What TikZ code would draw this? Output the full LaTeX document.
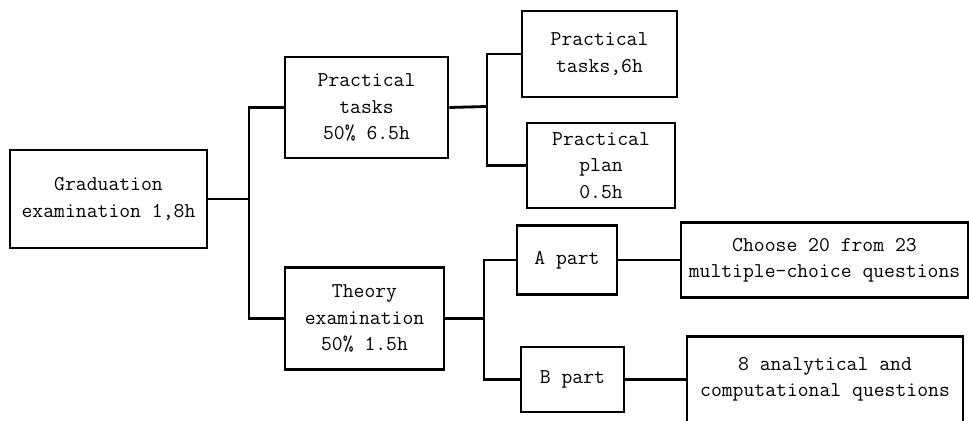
\documentclass[tikz,border=0pt]{standalone}
\usepackage{tikz}
\usetikzlibrary{calc}

\begin{document}
\begin{tikzpicture}[x=0.02cm,y=-0.02cm,line width=1.6pt,
  box/.style={draw,align=center,inner sep=0pt,font=\ttfamily\fontsize{12}{15}\selectfont}]

\useasboundingbox (0,0) rectangle (969,421);

\node [box,minimum width=3.94cm,minimum height=1.96cm] (grad) at (108.5,199) {Graduation\\examination 1,8h};

\node [box,minimum width=3.26cm,minimum height=2.02cm] (prac) at (366.5,107.5) {Practical\\tasks\\50\% 6.5h};
\node [box,minimum width=3.18cm,minimum height=2.04cm] (theo) at (364.5,318.5) {Theory\\examination\\50\% 1.5h};

\node [box,minimum width=3.10cm,minimum height=1.72cm] (ptask) at (599.5,54) {Practical\\tasks,6h};
\node [box,minimum width=2.96cm,minimum height=1.70cm] (pplan) at (601,165.5) {Practical\\plan\\0.5h};

\node [box,minimum width=2.00cm,minimum height=1.38cm] (apart) at (567,260) {A part};
\node [box,minimum width=2.06cm,minimum height=1.30cm] (bpart) at (572.5,379.5) {B part};

\node [box,minimum width=5.74cm,minimum height=1.50cm] (choose) at (824.5,260) {Choose 20 from 23\\multiple-choice questions};
\node [box,minimum width=5.52cm,minimum height=1.72cm] (anal) at (825,379.5) {8 analytical and\\computational questions};

% branch points
\coordinate (j1) at (249,199);
\coordinate (j2) at (487,106.5);
\coordinate (j3) at (484,318.5);

\draw (grad.east) -- (j1);
\draw (prac.west) -| (j1) |- (theo.west);

\draw (prac.east) -- (j2);
\draw (ptask.west) -| (j2) |- (pplan.west);

\draw (theo.east) -- (j3);
\draw (apart.west) -| (j3) |- (bpart.west);

\draw (apart.east) -- (choose.west);
\draw (bpart.east) -- (anal.west);

\end{tikzpicture}
\end{document}
